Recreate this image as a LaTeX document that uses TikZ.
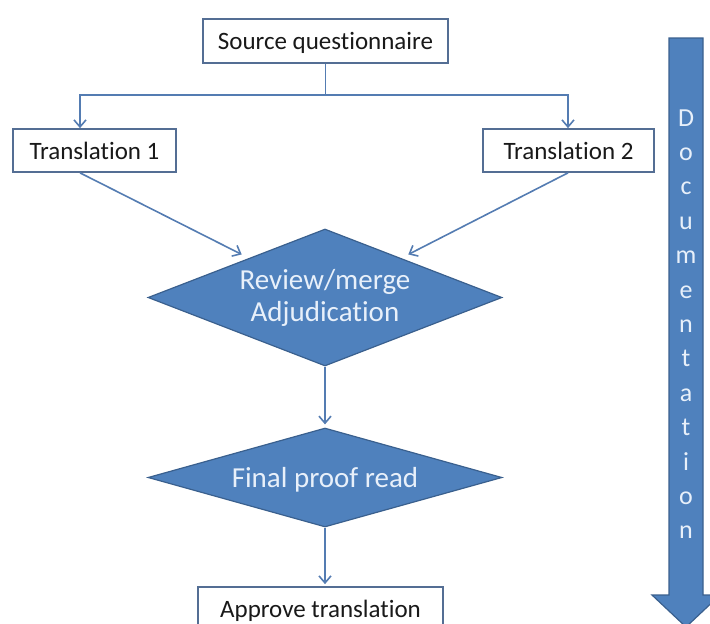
\documentclass[tikz,border=0pt]{standalone}
\usepackage{fontspec}
\setmainfont{Carlito}[Ligatures={NoCommon,NoContextual,NoRare}]
\usetikzlibrary{arrows.meta,shapes.geometric,calc}

\definecolor{boxline}{RGB}{84,110,148}
\definecolor{conn}{RGB}{84,124,178}
\definecolor{dfill}{RGB}{79,129,189}
\definecolor{dline}{RGB}{58,96,142}
\definecolor{lighttext}{RGB}{232,240,250}
\definecolor{darktext}{RGB}{25,25,25}

\tikzset{
  stepbox/.style={draw=boxline, line width=1.7pt, fill=white, rectangle,
    inner sep=0pt, text depth=0pt, text=darktext,
    font=\fontsize{25}{30}\selectfont},
  decision/.style={diamond, draw=dline, line width=1.2pt, fill=dfill,
    inner sep=0pt, text=lighttext, align=center,
    font=\fontsize{29}{32}\selectfont},
  flow/.style={draw=conn, line width=1.6pt,
    -{Straight Barb[length=7pt,width=12pt,line width=1.6pt]}},
  plain/.style={draw=conn, line width=1.6pt},
  doclet/.style={anchor=base, text=lighttext, inner sep=0pt,
    font=\fontsize{26}{30}\selectfont}
}

\begin{document}
\begin{tikzpicture}[x=1pt,y=-1pt]
  \useasboundingbox (0,0) rectangle (710,624);
  \clip (0,0) rectangle (710,624);

  % process boxes
  \node[stepbox, minimum width=245, minimum height=44] (src) at (325.5,41) {Source questionnaire};
  \node[stepbox, minimum width=163, minimum height=43] (t1) at (94.5,150.5) {Translation 1};
  \node[stepbox, minimum width=171, minimum height=43] (t2) at (568.5,150.5) {Translation 2};
  \node[stepbox, minimum width=245, minimum height=44] (appr) at (320.5,609) {Approve translation};

  % decisions
  \node[decision, shape aspect=2.58, minimum width=354, minimum height=137] (d1) at (325,297.5) {Review/merge\\Adjudication};
  \node[decision, shape aspect=3.58, minimum width=354, minimum height=99, text depth=0pt] (d2) at (325,477.5) {Final proof read};

  % split from the source into the two translations
  \coordinate (split) at ($(src.south)+(0,31)$);
  \draw[plain] (src.south) -- (split);
  \draw[flow] (split) -| ([xshift=-14.5pt]t1.north);
  \draw[flow] (split) -| ([xshift=-0.5pt]t2.north);

  % translations into the review step
  \draw[flow] ([xshift=-14.5pt]t1.south) -- ([shift={(5.5,-8.5)}]d1.north west);
  \draw[flow] ([xshift=-0.5pt]t2.south) -- ([shift={(-5.5,-8.5)}]d1.north east);

  % down the chain
  \draw[flow] (d1.south) -- ([yshift=3pt]d2.north);
  \draw[flow] (d2.south) -- ([yshift=2pt]d2.south |- appr.north);

  % documentation arrow along the right side
  \draw[draw=dline, line width=1.2pt, fill=dfill]
    (669,38) -- (703,38) -- (703,595) -- (720,595) -- (686,627)
    -- (652,595) -- (669,595) -- cycle;
  \foreach \ch [count=\i from 0] in {D,o,c,u,m,e,n,t,a,t,i,o,n}
    \node[doclet] (doc\i) at (686,126+34.4*\i) {\ch};
\end{tikzpicture}
\end{document}
